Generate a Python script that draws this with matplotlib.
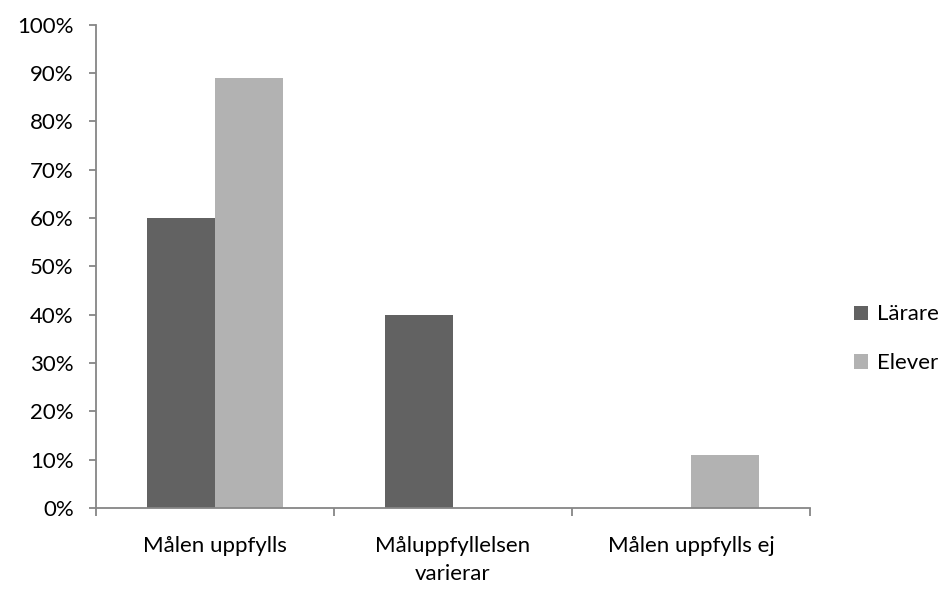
import matplotlib.pyplot as plt
import numpy as np
from matplotlib.ticker import FixedLocator, FuncFormatter

# Data
categories = ["Målen uppfylls", "Måluppfyllelsen\nvarierar", "Målen uppfylls ej"]
series_names = ["Lärare", "Elever"]
larare = [60, 40, 0]
elever = [89, 0, 11]
colors = ["#626262", "#B2B2B2"]

plt.rcParams['font.family'] = ['Lato', 'DejaVu Sans']

fig = plt.figure(figsize=(9.45, 5.93), dpi=100)
ax = fig.add_axes([0.1016, 0.1433, 0.7556, 0.8149])

x = np.arange(len(categories))
width = 0.286
ax.bar(x - width / 2, larare, width, color=colors[0], label=series_names[0])
ax.bar(x + width / 2, elever, width, color=colors[1], label=series_names[1])

ax.set_xlim(-0.5, len(categories) - 0.5)
ax.set_ylim(0, 100)

# Spines and ticks in Excel style
for side in ["top", "right"]:
    ax.spines[side].set_visible(False)
for side in ["left", "bottom"]:
    ax.spines[side].set_color("#868686")
    ax.spines[side].set_linewidth(1.3)

ax.set_yticks(np.arange(0, 101, 10))
ax.yaxis.set_major_formatter(FuncFormatter(lambda v, p: f"{int(v)}%"))
ax.tick_params(axis="y", length=5, width=1.3, color="#868686", labelsize=16, pad=11)

# category boundaries as major ticks, labels on minor ticks at centres
ax.xaxis.set_major_locator(FixedLocator(np.arange(-0.5, len(categories), 1.0)))
ax.xaxis.set_minor_locator(FixedLocator(x))
ax.set_xticklabels([], minor=False)
ax.set_xticklabels(categories, minor=True, linespacing=1.5)
ax.tick_params(axis="x", which="major", length=6, width=1.3, color="#868686")
ax.tick_params(axis="x", which="minor", length=0, labelsize=16, pad=20)

ax.legend(loc="center left", bbox_to_anchor=(1.0, 0.35), frameon=False,
          fontsize=16, handlelength=0.6, handleheight=0.6, labelspacing=1.3,
          handletextpad=0.4, borderaxespad=1.6)

fig.savefig("out.png", dpi=100)
